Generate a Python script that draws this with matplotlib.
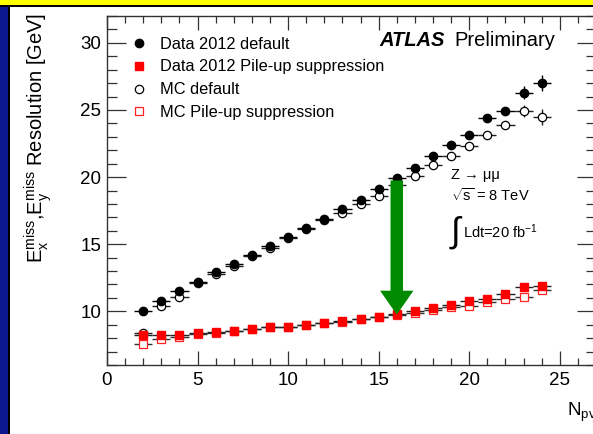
import numpy as np
import matplotlib
matplotlib.use("Agg")
import matplotlib.pyplot as plt
from matplotlib.patches import Rectangle
from matplotlib.lines import Line2D

plt.rcParams['font.family'] = ['Liberation Sans', 'DejaVu Sans']
plt.rcParams['mathtext.fontset'] = 'custom'
plt.rcParams['mathtext.rm'] = 'Liberation Sans'
plt.rcParams['mathtext.it'] = 'Liberation Sans:italic'

# ---------------- data ----------------
npv = np.arange(2, 25)
data_default = [10.0, 10.75, 11.5, 12.2, 12.9, 13.55, 14.2, 14.85, 15.5, 16.2,
                16.9, 17.6, 18.3, 19.1, 19.9, 20.65, 21.55, 22.4, 23.1, 24.4,
                24.9, 26.3, 27.0]
data_default_err = [0.05, 0.05, 0.05, 0.05, 0.05, 0.05, 0.05, 0.05, 0.05, 0.05,
                    0.05, 0.06, 0.07, 0.08, 0.09, 0.1, 0.12, 0.14, 0.17, 0.22,
                    0.3, 0.45, 0.6]
mc_default = [8.4, 10.4, 11.1, 12.1, 12.75, 13.4, 14.1, 14.75, 15.45, 16.1,
              16.8, 17.3, 18.0, 18.6, 19.4, 20.1, 20.9, 21.6, 22.3, 23.1,
              23.9, 24.9, 24.5]
mc_default_err = [0.05, 0.05, 0.05, 0.05, 0.05, 0.05, 0.05, 0.05, 0.05, 0.05,
                  0.05, 0.06, 0.07, 0.08, 0.09, 0.1, 0.12, 0.14, 0.17, 0.2,
                  0.3, 0.45, 0.6]
data_pu = [8.2, 8.2, 8.25, 8.35, 8.45, 8.5, 8.7, 8.8, 8.85, 9.0,
           9.1, 9.25, 9.45, 9.6, 9.8, 10.0, 10.25, 10.45, 10.8, 10.95,
           11.3, 11.8, 11.9]
data_pu_err = [0.03, 0.03, 0.03, 0.03, 0.03, 0.03, 0.03, 0.03, 0.03, 0.04,
               0.04, 0.04, 0.05, 0.05, 0.06, 0.07, 0.08, 0.09, 0.1, 0.12,
               0.15, 0.2, 0.25]
mc_pu = [7.55, 7.9, 8.1, 8.3, 8.4, 8.5, 8.65, 8.8, 8.85, 9.0,
         9.1, 9.2, 9.4, 9.55, 9.75, 9.9, 10.1, 10.3, 10.4, 10.7,
         10.9, 11.05, 11.6]
mc_pu_err = data_pu_err

x_halfwidth = 0.5
legend_labels = ["Data 2012 default", "Data 2012 Pile-up suppression",
                 "MC default", "MC Pile-up suppression"]
arrow_npv = 16

# ---------------- figure ----------------
W, H = 593, 434
fig = plt.figure(figsize=(W / 100, H / 100), dpi=100)
fig.patch.set_facecolor('white')

# slide decorations
fig.patches.append(Rectangle((0, 1 - 5 / H), 1, 5 / H, transform=fig.transFigure,
                             facecolor='#ffff00', edgecolor='none', zorder=0))
fig.patches.append(Rectangle((0, 1 - 6.5 / H), 1, 2 / H, transform=fig.transFigure,
                             facecolor='black', edgecolor='none', zorder=1))
fig.patches.append(Rectangle((0, 0), 7.5 / W, 1 - 6 / H, transform=fig.transFigure,
                             facecolor='#0a1890', edgecolor='none', zorder=0))
fig.patches.append(Rectangle((7.5 / W, 0), 2 / W, 1 - 6 / H, transform=fig.transFigure,
                             facecolor='black', edgecolor='none', zorder=1))

ax = fig.add_axes([107 / W, 1 - 365 / H, 489 / W, 349 / H])
ax.set_xlim(0, 27)
ax.set_ylim(6, 32)

ms_c = 6.0
ms_s = 6.3
kw = dict(xerr=x_halfwidth, linestyle='none', elinewidth=1.0, capsize=0)

ax.errorbar(npv, mc_default, yerr=mc_default_err, fmt='o', ms=ms_c,
            mfc='white', mec='black', mew=0.9, ecolor='#222222', zorder=3, **kw)
ax.errorbar(npv, data_default, yerr=data_default_err, fmt='o', ms=ms_c,
            mfc='black', mec='black', ecolor='black', zorder=4, **kw)
ax.errorbar(npv, mc_pu, yerr=mc_pu_err, fmt='s', ms=ms_s,
            mfc='white', mec='#ff2020', mew=0.9, ecolor='#333333', zorder=3, **kw)
ax.errorbar(npv, data_pu, yerr=data_pu_err, fmt='s', ms=ms_s,
            mfc='red', mec='red', ecolor='#222222', zorder=4, **kw)

# green arrow from default to pile-up suppression
i = list(npv).index(arrow_npv)
y0 = data_default[i] - 0.15
y1 = data_pu[i] - 0.05
ax.annotate('', xy=(arrow_npv, y1), xytext=(arrow_npv, y0),
            arrowprops=dict(arrowstyle='simple,head_length=1.15,head_width=1.6,tail_width=0.6',
                            mutation_scale=15, facecolor='#008a00', edgecolor='none',
                            shrinkA=0, shrinkB=0), zorder=6)

# ticks
ax.set_xticks([0, 5, 10, 15, 20, 25])
ax.set_yticks([10, 15, 20, 25, 30])
ax.set_xticks(np.arange(0, 28, 1), minor=True)
ax.set_yticks(np.arange(6, 33, 1), minor=True)
ax.tick_params(which='both', direction='in', top=True, right=True, labelsize=13.5,
               width=0.9, color='#333333')
ax.tick_params(which='major', axis='x', length=10, pad=5)
ax.tick_params(which='minor', axis='x', length=5)
ax.tick_params(which='major', axis='y', length=14, pad=4)
ax.tick_params(which='minor', axis='y', length=7)
for s in ax.spines.values():
    s.set_color('#333333')
    s.set_linewidth(1.0)

# legend
handles = [
    Line2D([], [], marker='o', ls='none', ms=ms_c, mfc='black', mec='black'),
    Line2D([], [], marker='s', ls='none', ms=ms_s, mfc='red', mec='red'),
    Line2D([], [], marker='o', ls='none', ms=ms_c, mfc='white', mec='black', mew=0.9),
    Line2D([], [], marker='s', ls='none', ms=ms_s, mfc='white', mec='#ff2020', mew=0.9),
]
ax.legend(handles, legend_labels, loc='upper left', bbox_to_anchor=(0.035, 0.96),
          frameon=False, fontsize=11.8, handlelength=1.0, handletextpad=0.8,
          labelspacing=0.48, borderaxespad=0)

# ATLAS label
ax.text(0.558, 0.93, 'ATLAS', transform=ax.transAxes, fontsize=14.5,
        fontweight='bold', fontstyle='italic', va='center', ha='left')
ax.text(0.711, 0.93, 'Preliminary', transform=ax.transAxes, fontsize=14.5,
        va='center', ha='left')

# physics labels
ax.text(0.704, 0.545, 'Z \u2192 \u03bc\u03bc', transform=ax.transAxes,
        fontsize=10.5, va='center', ha='left')
ax.text(0.703, 0.487, r'$\sqrt{\mathrm{s}}$ = 8 TeV', transform=ax.transAxes,
        fontsize=10.5, va='center', ha='left')
ax.text(0.700, 0.38, r'$\int$', transform=ax.transAxes, fontsize=25,
        va='center', ha='left')
ax.text(0.727, 0.382, r'Ldt=20 fb$^{-1}$', transform=ax.transAxes,
        fontsize=10.5, va='center', ha='left')

# axis labels
fig.text(38 / W, 1 - 13 / H,
         r'E$_{\mathrm{x}}^{\mathrm{miss}}$,E$_{\mathrm{y}}^{\mathrm{miss}}$ Resolution [GeV]',
         rotation=90, ha='center', va='top', fontsize=14.5)
fig.text(567 / W, 1 - 412 / H, r'N$_{\mathrm{pv}}$', ha='left', va='center',
         fontsize=13.5)

fig.savefig('out.png', dpi=100)
